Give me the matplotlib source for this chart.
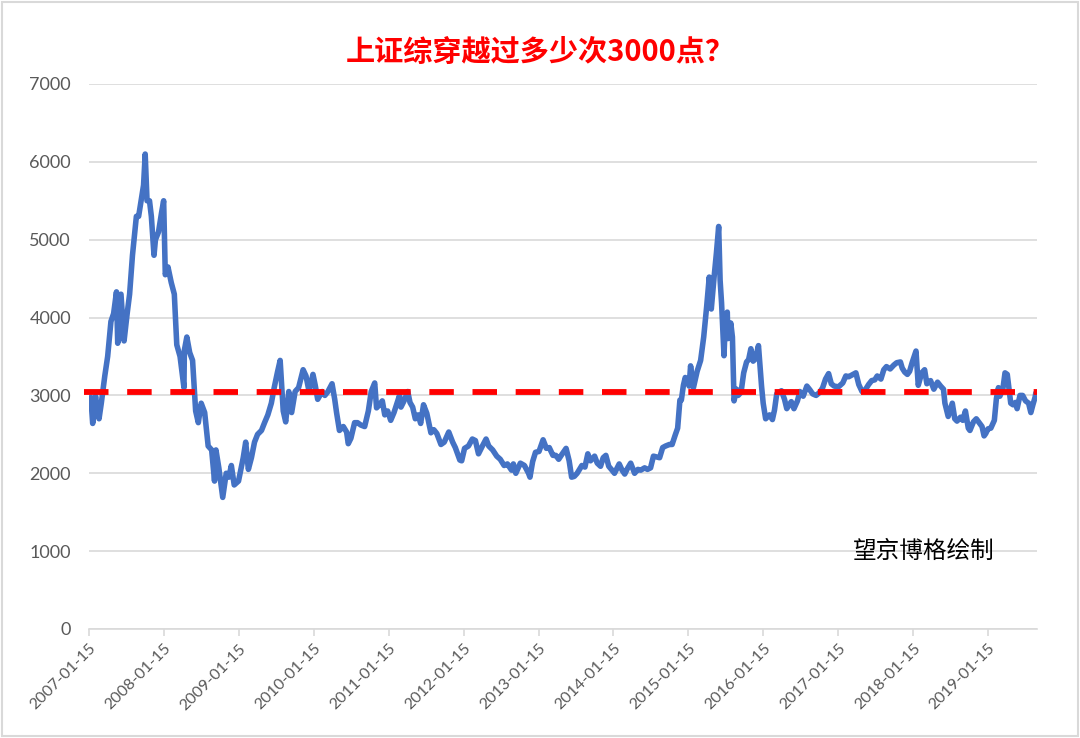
import matplotlib
matplotlib.use("Agg")
import matplotlib.pyplot as plt
from matplotlib.patches import Rectangle
import pandas as pd

plt.rcParams['font.family'] = ['Lato', 'Noto Sans CJK SC', 'DejaVu Sans']

title = "上证综穿越过多少次3000点？"
note = "望京博格绘制"
threshold = 3050
y_ticks = [0, 1000, 2000, 3000, 4000, 5000, 6000, 7000]
tick_dates = [f"{y}-01-15" for y in range(2007, 2020)]

dates_2007 = ["2007-01-15","2007-01-24","2007-02-02","2007-02-16","2007-02-27","2007-03-05","2007-03-16","2007-04-02","2007-04-16","2007-05-02","2007-05-15","2007-05-29","2007-06-04","2007-06-20","2007-07-05","2007-07-20","2007-08-01","2007-08-15","2007-09-03","2007-09-14","2007-10-08","2007-10-16","2007-10-25","2007-11-06","2007-11-15","2007-11-28","2007-12-05","2007-12-20"]
vals_2007 = [2900,2975,2640,2990,2770,2700,2900,3250,3500,3950,4050,4330,3670,4300,3700,4050,4300,4800,5300,5300,5700,6100,5500,5500,5300,4800,5000,5100]

dates_2008 = ["2008-01-04","2008-01-14","2008-01-22","2008-02-04","2008-02-20","2008-03-06","2008-03-18","2008-04-03","2008-04-22","2008-04-24","2008-05-06","2008-05-20","2008-06-03","2008-06-18","2008-07-01","2008-07-15","2008-08-01","2008-08-18","2008-09-04","2008-09-18","2008-09-25","2008-10-09","2008-10-28","2008-11-14","2008-11-27","2008-12-09","2008-12-23"]
vals_2008 = [5350,5500,4550,4650,4450,4300,3650,3500,3100,3580,3750,3550,3450,2800,2650,2900,2780,2350,2300,1900,2300,2070,1690,2000,1950,2100,1850]

dates_2009 = ["2009-01-13","2009-02-05","2009-02-17","2009-03-02","2009-03-17","2009-04-01","2009-04-16","2009-05-05","2009-05-20","2009-06-05","2009-06-22","2009-07-06","2009-07-22","2009-08-04","2009-08-19","2009-08-31","2009-09-15","2009-09-29","2009-10-16","2009-11-02","2009-11-24","2009-12-08","2009-12-23"]
vals_2009 = [1900,2200,2400,2050,2200,2400,2500,2550,2650,2750,2900,3100,3300,3450,2800,2660,3050,2780,3050,3100,3330,3250,3050]

dates_2010 = ["2010-01-11","2010-01-22","2010-02-03","2010-02-25","2010-03-10","2010-03-25","2010-04-14","2010-04-27","2010-05-06","2010-05-20","2010-06-08","2010-06-24","2010-07-02","2010-07-15","2010-08-02","2010-08-16","2010-09-01","2010-09-20","2010-10-08","2010-10-22","2010-11-08","2010-11-17","2010-12-01","2010-12-15","2010-12-27"]
vals_2010 = [3270,3130,2950,3050,3000,3050,3150,2950,2780,2550,2600,2530,2380,2450,2650,2650,2620,2600,2800,3050,3160,2840,2880,2930,2750]

dates_2011 = ["2011-01-10","2011-01-25","2011-02-10","2011-02-25","2011-03-09","2011-03-16","2011-03-31","2011-04-18","2011-04-29","2011-05-12","2011-05-25","2011-06-08","2011-06-20","2011-07-04","2011-07-20","2011-08-09","2011-08-23","2011-09-07","2011-09-27","2011-10-13","2011-11-04","2011-11-23","2011-12-06","2011-12-28"]
vals_2011 = [2800,2680,2780,2900,3000,2850,2930,3050,2910,2850,2700,2750,2640,2880,2770,2520,2560,2510,2370,2400,2530,2400,2330,2170]

dates_2012 = ["2012-01-06","2012-01-20","2012-02-08","2012-02-27","2012-03-13","2012-03-28","2012-04-16","2012-05-04","2012-05-17","2012-06-05","2012-06-25","2012-07-12","2012-07-31","2012-08-16","2012-09-05","2012-09-14","2012-09-26","2012-10-18","2012-11-07","2012-11-27","2012-12-04","2012-12-17","2012-12-31"]
vals_2012 = [2160,2320,2350,2440,2420,2250,2350,2440,2350,2300,2220,2180,2100,2120,2040,2120,2000,2130,2100,2000,1950,2150,2270]

dates_2013 = ["2013-01-17","2013-02-06","2013-02-22","2013-03-08","2013-03-26","2013-04-09","2013-04-23","2013-05-08","2013-05-29","2013-06-13","2013-06-25","2013-07-08","2013-07-22","2013-08-14","2013-08-29","2013-09-12","2013-09-25","2013-10-15","2013-10-28","2013-11-13","2013-11-26","2013-12-09","2013-12-23"]
vals_2013 = [2280,2430,2320,2330,2230,2230,2180,2240,2320,2160,1950,1960,2000,2100,2080,2250,2160,2220,2130,2090,2200,2230,2090]

dates_2014 = ["2014-01-08","2014-01-20","2014-02-12","2014-02-26","2014-03-11","2014-03-24","2014-04-09","2014-04-28","2014-05-14","2014-05-28","2014-06-16","2014-06-30","2014-07-15","2014-07-29","2014-08-14","2014-08-28","2014-09-12","2014-09-26","2014-10-15","2014-10-28","2014-11-12","2014-11-24","2014-12-05","2014-12-12","2014-12-22","2014-12-31"]
vals_2014 = [2040,2000,2120,2040,1990,2060,2130,2000,2050,2040,2070,2050,2070,2220,2210,2200,2330,2350,2370,2370,2490,2580,2940,2940,3130,3230]

dates_2015 = ["2015-01-19","2015-01-26","2015-02-09","2015-02-27","2015-03-16","2015-03-31","2015-04-14","2015-04-27","2015-05-07","2015-05-21","2015-06-01","2015-06-12","2015-06-19","2015-06-26","2015-07-08","2015-07-14","2015-07-24","2015-07-27","2015-08-10","2015-08-18","2015-08-26","2015-09-07","2015-09-15","2015-09-29","2015-10-12","2015-10-26","2015-11-05","2015-11-16","2015-11-27","2015-12-08","2015-12-23"]
vals_2015 = [3120,3380,3100,3310,3450,3750,4130,4520,4110,4530,4830,5170,4480,4190,3510,3920,4070,3730,3930,3750,2930,3080,3000,3040,3290,3430,3460,3600,3440,3470,3640]

dates_2016 = ["2016-01-07","2016-01-15","2016-01-27","2016-02-15","2016-02-29","2016-03-10","2016-03-21","2016-04-13","2016-04-28","2016-05-09","2016-05-31","2016-06-13","2016-06-30","2016-07-12","2016-07-28","2016-08-15","2016-08-30","2016-09-12","2016-09-29","2016-10-17","2016-10-31","2016-11-14","2016-11-29","2016-12-12","2016-12-26"]
vals_2016 = [3120,2900,2700,2750,2690,2810,3020,3060,2950,2830,2920,2830,2930,3050,2990,3120,3070,3020,3000,3040,3100,3210,3280,3150,3120]

dates_2017 = ["2017-01-16","2017-02-06","2017-02-21","2017-03-07","2017-03-21","2017-04-11","2017-04-25","2017-05-11","2017-05-24","2017-06-12","2017-06-27","2017-07-12","2017-07-24","2017-08-11","2017-08-25","2017-09-07","2017-09-25","2017-10-13","2017-10-27","2017-11-14","2017-11-23","2017-12-05","2017-12-18","2017-12-29"]
vals_2017 = [3110,3160,3250,3240,3260,3290,3140,3050,3060,3140,3190,3200,3250,3210,3330,3370,3340,3390,3420,3430,3350,3300,3270,3310]

dates_2018 = ["2018-01-10","2018-01-29","2018-02-09","2018-02-26","2018-03-12","2018-03-23","2018-04-10","2018-04-26","2018-05-14","2018-05-29","2018-06-12","2018-06-19","2018-07-05","2018-07-25","2018-08-06","2018-08-17","2018-09-03","2018-09-14","2018-09-27","2018-10-11","2018-10-19","2018-11-05","2018-11-19","2018-12-03","2018-12-17","2018-12-27"]
vals_2018 = [3420,3570,3130,3290,3330,3150,3190,3080,3170,3120,3080,2900,2730,2900,2700,2670,2720,2680,2800,2580,2550,2660,2700,2650,2600,2480]

dates_2019 = ["2019-01-04","2019-01-15","2019-01-29","2019-02-15","2019-02-25","2019-03-07","2019-03-14","2019-03-29","2019-04-08","2019-04-19","2019-05-06","2019-05-17","2019-05-29","2019-06-06","2019-06-20","2019-07-03","2019-07-17","2019-08-01","2019-08-12","2019-08-22","2019-09-02","2019-09-05"]
vals_2019 = [2510,2570,2580,2680,2960,3100,2990,3090,3290,3270,2900,2880,2910,2830,3000,3000,2930,2900,2780,2880,2980,3030]

all_dates = (dates_2007 + dates_2008 + dates_2009 + dates_2010 + dates_2011 + dates_2012 +
             dates_2013 + dates_2014 + dates_2015 + dates_2016 + dates_2017 + dates_2018 + dates_2019)
all_vals = (vals_2007 + vals_2008 + vals_2009 + vals_2010 + vals_2011 + vals_2012 +
            vals_2013 + vals_2014 + vals_2015 + vals_2016 + vals_2017 + vals_2018 + vals_2019)
df = pd.DataFrame({"date": pd.to_datetime(all_dates), "close": all_vals})

fig = plt.figure(figsize=(10.8, 7.38), dpi=100)
ax = fig.add_axes([0.0824, 0.1477, 0.8776, 0.7385])

grid_c = "#D9D9D9"
text_c = "#595959"

ax.plot(df["date"], df["close"], color="#4472C4", lw=4, solid_joinstyle="round",
        solid_capstyle="round", zorder=3)

x0 = pd.Timestamp("2007-01-15")
x1 = pd.Timestamp("2019-09-10")
ax.set_xlim(x0, x1)
ax.set_ylim(0, 7000)

# threshold line
ax.plot([pd.Timestamp("2006-12-20"), pd.Timestamp("2019-09-10")], [threshold, threshold],
        color="#FF0000", lw=4.2, dashes=(4.2, 3.2), zorder=4, clip_on=False)

ax.set_yticks(y_ticks)
ax.set_yticklabels([str(v) for v in y_ticks])
ax.set_xticks(pd.to_datetime(tick_dates))
ax.set_xticklabels(tick_dates, rotation=45, ha="right", rotation_mode="anchor")

ax.yaxis.grid(True, color=grid_c, lw=1.2)
ax.set_axisbelow(True)
for s in ["top", "right", "left"]:
    ax.spines[s].set_visible(False)
ax.spines["bottom"].set_color(grid_c)
ax.spines["bottom"].set_linewidth(1.2)
ax.tick_params(axis="y", length=0, pad=13, labelsize=13, labelcolor=text_c)
ax.tick_params(axis="x", length=5, color=grid_c, width=1.2, pad=4, labelsize=11.5, labelcolor=text_c)

fig.text(0.5, 0.930, title, ha="center", va="center", color="#FF0000",
         fontsize=21, fontweight="bold", family=["Noto Sans CJK SC", "DejaVu Sans"])
ax.text(0.806, 0.143, note, transform=ax.transAxes, ha="left", va="center",
        fontsize=17, color="#000000", family=["Noto Sans CJK SC", "DejaVu Sans"])

fig.patches.append(Rectangle((0.002, 0.003), 0.996, 0.994, transform=fig.transFigure,
                             fill=False, edgecolor="#D9D9D9", lw=1.5))

fig.savefig("out.png", dpi=100)
